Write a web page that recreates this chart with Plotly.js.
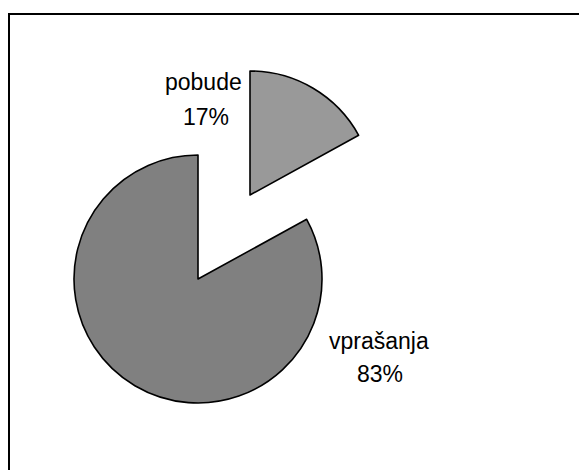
<!DOCTYPE html>
<html>
<head>
<meta charset="utf-8">
<script src="https://cdn.plot.ly/plotly-3.0.1.min.js"></script>
<style>html,body{margin:0;padding:0;background:#fff;}#chart{width:579px;height:470px;}</style>
</head>
<body>
<div id="chart"></div>
<script>
// Data
const categories = ['pobude', 'vprašanja'];
const values = [17, 83];
const sliceColors = ['#999999', '#808080'];

const W = 579, H = 470;
const total = values.reduce((a, b) => a + b, 0);
const pct = values.map(v => Math.round(v / total * 100) + '%');

// helpers for paper coords
const px = x => x / W;
const py = y => 1 - y / H;

function pieTrace(visibleIndex, cx, cy, r) {
  return {
    type: 'pie',
    labels: categories,
    values: values,
    sort: false,
    direction: 'clockwise',
    rotation: 0,
    textinfo: 'none',
    hoverinfo: 'skip',
    showlegend: false,
    marker: {
      colors: sliceColors.map((c, i) => i === visibleIndex ? c : 'rgba(0,0,0,0)'),
      line: {
        color: '#000000',
        width: sliceColors.map((c, i) => i === visibleIndex ? 1.6 : 0)
      }
    },
    domain: {
      x: [px(cx - r), px(cx + r)],
      y: [py(cy + r), py(cy - r)]
    }
  };
}

const R = 124;
const traces = [
  pieTrace(1, 198, 279, R),   // vprašanja (main body)
  pieTrace(0, 250, 195, R)    // pobude (exploded)
];

const labelFont = {family: 'Liberation Sans, Arial, sans-serif', size: 23, color: '#000000'};
function ann(text, x, y) {
  return {text: text, x: px(x), y: py(y), xref: 'paper', yref: 'paper',
          xanchor: 'center', yanchor: 'middle', showarrow: false, font: labelFont};
}

const layout = {
  width: W, height: H,
  margin: {l: 0, r: 0, t: 0, b: 0},
  paper_bgcolor: '#ffffff',
  plot_bgcolor: '#ffffff',
  showlegend: false,
  annotations: [
    ann(categories[0], 204, 82),
    ann(pct[0], 206, 117),
    ann(categories[1], 379, 341),
    ann(pct[1], 380, 374)
  ],
  shapes: [{
    type: 'rect', xref: 'paper', yref: 'paper',
    x0: px(9), x1: px(W + 20), y0: py(H + 20), y1: py(14),
    line: {color: '#000000', width: 2}, fillcolor: 'rgba(0,0,0,0)'
  }]
};

Plotly.newPlot('chart', traces, layout, {displayModeBar: false, staticPlot: true});
</script>
</body>
</html>
